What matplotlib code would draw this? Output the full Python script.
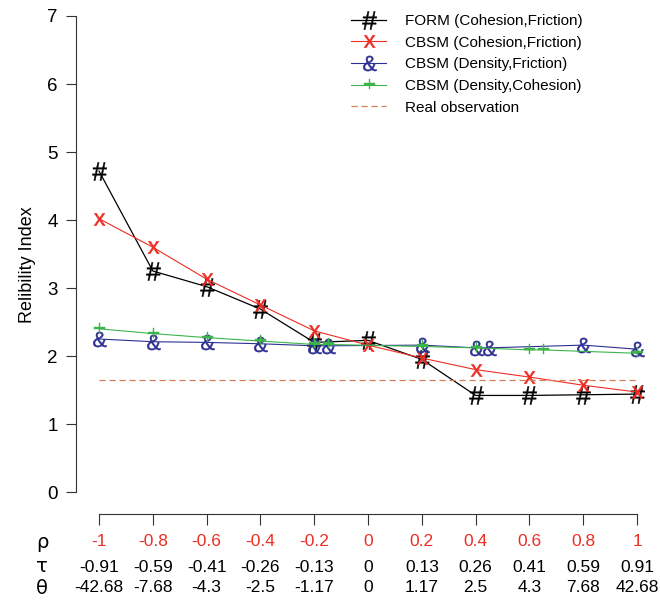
import numpy as np
import matplotlib
matplotlib.use("Agg")
from matplotlib import pyplot as plt
from matplotlib import transforms
from matplotlib.textpath import TextPath
from matplotlib.font_manager import FontProperties
from matplotlib.path import Path

plt.rcParams['font.family'] = ['Liberation Sans', 'DejaVu Sans']

# x axis rows
rho = [-1, -0.8, -0.6, -0.4, -0.2, 0, 0.2, 0.4, 0.6, 0.8, 1]
rho_labels = ['-1', '-0.8', '-0.6', '-0.4', '-0.2', '0', '0.2', '0.4', '0.6', '0.8', '1']
tau_labels = ['-0.91', '-0.59', '-0.41', '-0.26', '-0.13', '0', '0.13', '0.26', '0.41', '0.59', '0.91']
theta_labels = ['-42.68', '-7.68', '-4.3', '-2.5', '-1.17', '0', '1.17', '2.5', '4.3', '7.68', '42.68']

# series
form_x = [-1, -0.8, -0.6, -0.4, -0.2, 0, 0.2, 0.4, 0.6, 0.8, 1]
form_y = [4.72, 3.25, 3.02, 2.69, 2.2, 2.23, 1.95, 1.42, 1.42, 1.43, 1.44]

cbsm_cf_x = [-1, -0.8, -0.6, -0.4, -0.2, 0, 0.2, 0.4, 0.6, 0.8, 1]
cbsm_cf_y = [4.02, 3.6, 3.13, 2.75, 2.37, 2.16, 1.97, 1.8, 1.69, 1.57, 1.47]

cbsm_df_x = [-1, -0.8, -0.6, -0.4, -0.2, -0.15, 0.2, 0.4, 0.45, 0.8, 1]
cbsm_df_y = [2.25, 2.21, 2.2, 2.18, 2.15, 2.15, 2.16, 2.12, 2.12, 2.16, 2.1]

cbsm_dc_x = [-1, -0.8, -0.6, -0.4, -0.2, -0.15, 0.2, 0.4, 0.6, 0.65, 1]
cbsm_dc_y = [2.4, 2.33, 2.27, 2.22, 2.17, 2.17, 2.14, 2.12, 2.09, 2.09, 2.04]

real_obs = 1.65

RED = '#ee2d24'
BLUE = '#2e3192'
GREEN = '#3cb44a'
ORANGE = '#d4805a'


def char_marker(ch):
    tp = TextPath((0, 0), ch, size=10, prop=FontProperties(family='Liberation Sans'))
    v = tp.vertices.copy()
    mn, mx = v.min(axis=0), v.max(axis=0)
    v = v - (mn + mx) / 2
    return Path(v, tp.codes)


fig = plt.figure(figsize=(6.6, 6.01), dpi=100)
ax = fig.add_axes([76 / 660, 87 / 601, 574 / 660, 498 / 601])

ax.plot(form_x, form_y, color='black', lw=0.9, marker=char_marker('#'), ms=13,
        mew=0.3, label='FORM (Cohesion,Friction)')
ax.plot(cbsm_cf_x, cbsm_cf_y, color=RED, lw=0.8, marker=char_marker('x'), ms=9,
        mew=0.3, label='CBSM (Cohesion,Friction)')
ax.plot(cbsm_df_x, cbsm_df_y, color=BLUE, lw=0.8, marker=char_marker('&'), ms=11,
        mew=0.3, label='CBSM (Density,Friction)')
ax.plot(cbsm_dc_x, cbsm_dc_y, color=GREEN, lw=0.8, marker=char_marker('+'), ms=9,
        mew=0.3, label='CBSM (Density,Cohesion)')
ax.plot([rho[0], rho[-1]], [real_obs, real_obs], color=ORANGE, lw=0.9, ls=(0, (5, 3)),
        label='Real observation')

ax.set_xlim(-1.0855, 1.048)
ax.set_ylim(-0.3235, 7)

for s in ['top', 'right']:
    ax.spines[s].set_visible(False)
ax.spines['left'].set_bounds(0, 7)
ax.spines['bottom'].set_bounds(-1, 1)
ax.spines['left'].set_color('#333333')
ax.spines['bottom'].set_color('#333333')

ax.set_yticks(range(8))
ax.tick_params(axis='y', labelsize=13.5, length=7, pad=6, direction='out', color='#333333')
ax.set_xticks(rho)
ax.set_xticklabels([])
ax.tick_params(axis='x', length=8, direction='out', color='#333333')
ax.set_ylabel('Relibility Index', fontsize=13, labelpad=8)

# rows of x labels
trans = transforms.blended_transform_factory(ax.transData, fig.transFigure)
rows = [(rho_labels, RED, 542, 'ρ'), (tau_labels, 'black', 567, 'τ'), (theta_labels, 'black', 588, 'θ')]
for labels, col, py, sym in rows:
    yf = 1 - py / 601
    for xv, lab in zip(rho, labels):
        ax.text(xv, yf, lab, transform=trans, ha='center', va='center', fontsize=12.5, color=col)
    fig.text(42 / 660, yf, sym, ha='center', va='center', fontsize=14, color='black',
             family=['DejaVu Sans'])

leg = ax.legend(loc='upper left', bbox_to_anchor=(345 / 660, 1 - 8 / 601),
                bbox_transform=fig.transFigure, frameon=False, fontsize=11,
                handlelength=2.3, handletextpad=1.2, labelspacing=0.5, borderaxespad=0)

fig.savefig('out.png', dpi=100)
